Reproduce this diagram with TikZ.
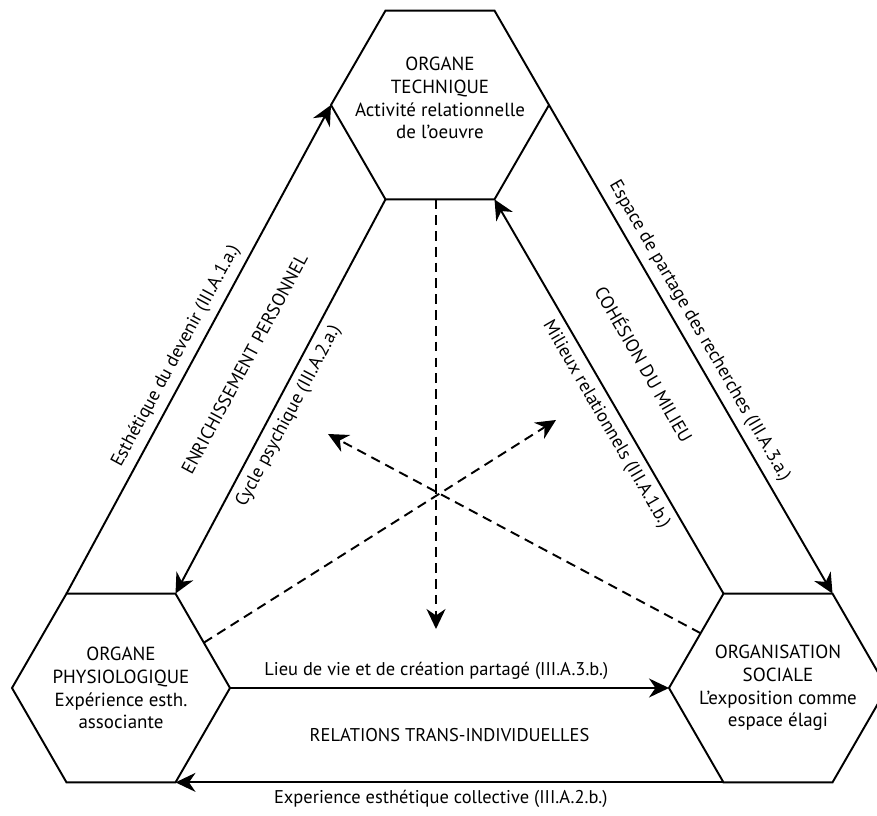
\documentclass[tikz,border=0pt]{standalone}
\usepackage{fontspec}
\setmainfont{PT Sans}
\usetikzlibrary{shapes.geometric,arrows.meta,calc}

\begin{document}
\begin{tikzpicture}[
    >={Stealth[length=4mm, width=3.8mm]},
    hexa/.style={regular polygon, regular polygon sides=6, minimum size=4.36cm, draw, line width=1.1pt, inner sep=0pt, outer sep=0pt},
    hextext/.style={align=center, font=\fontsize{10.8}{13}\selectfont},
    flow/.style={->, line width=1.1pt},
    link/.style={->, line width=1.1pt, dash pattern=on 5.5pt off 3.5pt},
    lbl/.style={font=\fontsize{10.5}{12}\selectfont, sloped, inner sep=4pt},
    mid/.style={font=\fontsize{10.5}{12}\selectfont},
]
\useasboundingbox (0,0) rectangle (17.54,16.32);

% the three organs
\node[hexa] (tech) at (8.80, 14.22) {};
\node[hextext] at ([yshift=0.14cm]tech.center) {ORGANE\\TECHNIQUE\\Activité relationnelle\\de l’oeuvre};

\node[hexa] (phys) at (2.42, 2.56) {};
\node[hextext] at (phys.center) {ORGANE\\PHYSIOLOGIQUE\\Expérience esth.\\associante};

\node[hexa] (soc) at (15.56, 2.56) {};
\node[hextext] at (soc.center) {ORGANISATION\\SOCIALE\\L’exposition comme\\espace élagi};

% left side
\draw[flow] (phys.120) -- node[lbl, above, pos=.47] {Esthétique du devenir (III.A.1.a.)} coordinate[pos=.52] (lo) (tech.180);
\draw[flow] (tech.240) -- node[lbl, below, pos=.53] {Cycle psychique (III.A.2.a.)} coordinate[pos=.48] (li) (phys.60);
\node[mid, rotate=61.8] at ($(lo)!.5!(li)$) {ENRICHISSEMENT PERSONNEL};

% right side
\draw[flow] (tech.0) -- node[lbl, above, pos=.48] {Espace de partage des recherches (III.A.3.a.)} coordinate[pos=.48] (ro) (soc.60);
\draw[flow] (soc.120) -- node[lbl, below, pos=.45] {Milieux relationnels (III.A.1.b.)} coordinate[pos=.52] (ri) (tech.300);
\node[mid, rotate=-60] at ($(ro)!.5!(ri)$) {COHÉSION DU MILIEU};

% bottom side
\draw[flow] (phys.0) -- node[lbl, above, pos=.47] {Lieu de vie et de création partagé (III.A.3.b.)} coordinate[pos=.5] (bi) (soc.180);
\draw[flow] (soc.240) -- node[lbl, below, pos=.516] {Experience esthétique collective (III.A.2.b.)} coordinate[pos=.5] (bo) (phys.300);
\node[mid] at ($(bi)!.5!(bo)$) {RELATIONS TRANS-INDIVIDUELLES};

% dashed links
\coordinate (vtop) at ([xshift=-0.08cm]tech.south);
\coordinate (vend) at (8.72, 3.74);
\coordinate (lstart) at ($(phys.60)!.52!(phys.0)$);
\coordinate (rend) at (11.12, 7.92);
\coordinate (rstart) at ($(soc.120)!.42!(soc.180)$);
\coordinate (lend) at (6.56, 7.64);
\draw[link] (vtop) -- (vend);
\draw[link] (lstart) -- (rend);
\draw[link] (rstart) -- (lend);
\end{tikzpicture}
\end{document}
